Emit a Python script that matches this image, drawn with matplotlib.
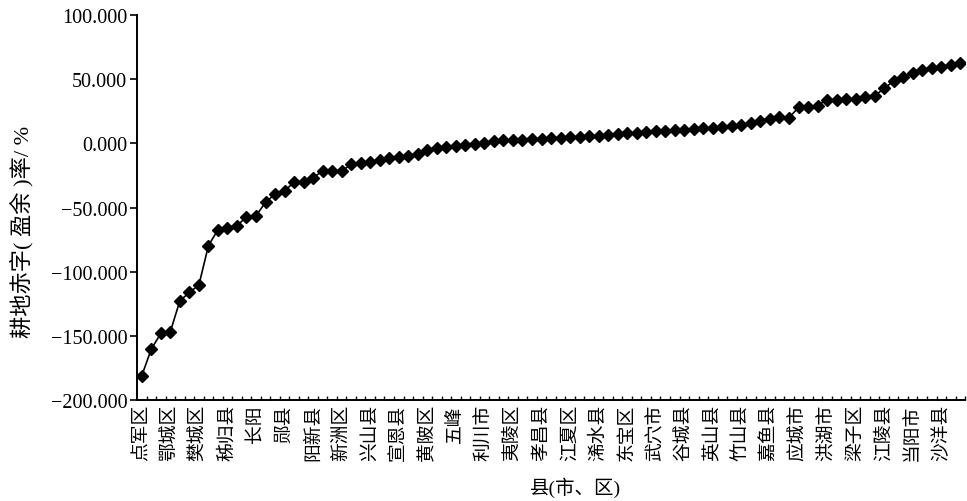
import numpy as np
import matplotlib
matplotlib.use("Agg")
import matplotlib.pyplot as plt
from matplotlib.ticker import FixedLocator, FuncFormatter

# ─────────────────────────────────────────────
# DATA  (87 counties, sorted by deficit/surplus rate)
# ─────────────────────────────────────────────
rates = [
    -181.1, -160.3, -148.1, -146.8, -122.7, -116.2, -110.4, -79.8, -67.3, -66.0,
    -64.2, -57.2, -56.4, -46.0, -39.5, -36.9, -30.4, -29.9, -27.0, -21.3,
    -21.8, -21.8, -16.1, -15.6, -14.3, -12.8, -11.7, -10.5, -10.0, -8.0,
    -4.8, -3.4, -2.6, -2.0, -1.2, -0.5, 0.6, 1.5, 2.3, 2.7,
    3.0, 3.3, 3.6, 4.0, 4.4, 4.8, 5.2, 5.6, 6.0, 6.6,
    7.2, 7.8, 8.3, 8.8, 9.3, 9.8, 10.3, 10.8, 11.2, 11.7,
    12.2, 13.0, 13.5, 14.2, 15.5, 17.5, 19.0, 20.5, 20.0, 28.0,
    28.5, 29.5, 34.0, 34.0, 34.3, 34.5, 35.8, 37.0, 42.9, 48.5,
    51.4, 55.0, 57.0, 58.5, 59.5, 61.0, 63.0,
]

# only every third county is labelled on the axis
shown_names = [
    "点军区", "鄂城区", "樊城区", "秭归县", "长阳", "郧县", "阳新县", "新洲区",
    "兴山县", "宣恩县", "黄陂区", "五峰", "利川市", "夷陵区", "孝昌县", "江夏区",
    "浠水县", "东宝区", "武穴市", "谷城县", "英山县", "竹山县", "嘉鱼县", "应城市",
    "洪湖市", "梁子区", "江陵县", "当阳市", "沙洋县",
]
label_step = 3

yticks = [-200, -150, -100, -50, 0, 50, 100]

# ─────────────────────────────────────────────
# FIGURE
# ─────────────────────────────────────────────
fonts = ["Liberation Serif", "Noto Sans CJK SC", "DejaVu Sans"]
plt.rcParams["font.family"] = fonts

fig = plt.figure(figsize=(9.67, 5.02), dpi=100)
ax = fig.add_axes([0.1417, 0.2012, 0.8563, 0.7668])

x = np.arange(len(rates))
ax.plot(x, rates, color="black", linewidth=1.2, marker="D",
        markersize=6, markerfacecolor="black", markeredgecolor="black")

ax.set_xlim(-0.5, len(rates) - 0.5)
ax.set_ylim(yticks[0], yticks[-1])

# y axis  (3 decimals, real minus sign)
ax.set_yticks(yticks)
ax.yaxis.set_major_formatter(FuncFormatter(lambda v, p: f"{v:.3f}".replace("-", "\u2212")))
ax.tick_params(axis="y", direction="out", length=5, width=1.2,
               labelsize=14.5, pad=2)

# x axis: boundary ticks pointing in, labels every 3rd county
ax.set_xticks(x[::label_step])
ax.set_xticklabels(shown_names, rotation=90, fontsize=13.5)
ax.xaxis.set_minor_locator(FixedLocator(np.arange(0.5, len(rates), 1)))
ax.tick_params(axis="x", which="major", length=0, pad=3)
ax.tick_params(axis="x", which="minor", direction="in", length=2.8, width=1)

for side in ["top", "right"]:
    ax.spines[side].set_visible(False)
for side in ["left", "bottom"]:
    ax.spines[side].set_linewidth(1.4)

ax.set_ylabel("耕地赤字( 盈余 )率/ %", fontsize=16)
ax.yaxis.set_label_coords(-0.125, 0.44)
ax.set_xlabel("县(市、区)", fontsize=14)
ax.xaxis.set_label_coords(0.53, -0.2)

fig.savefig("out.png", dpi=100)
